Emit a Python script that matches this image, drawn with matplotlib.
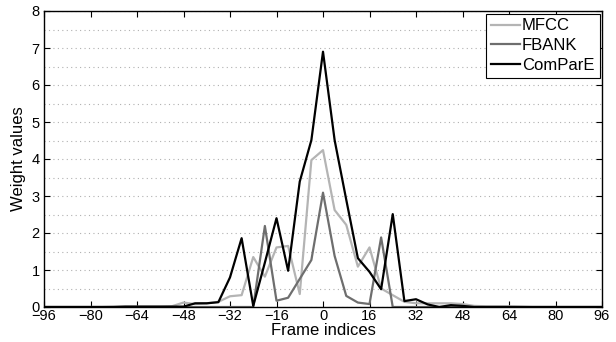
import matplotlib
matplotlib.use("Agg")
import matplotlib.pyplot as plt
from matplotlib.ticker import MultipleLocator

plt.rcParams["font.family"] = ["Liberation Sans", "DejaVu Sans"]

# frame indices (step of 4)
FRAMES = [-96, -92, -88, -84, -80, -76, -72, -68, -64, -60, -56, -52,
          -48, -44, -40, -36, -32, -28, -24, -20, -16, -12, -8, -4,
          0, 4, 8, 12, 16, 20, 24, 28, 32, 36, 40, 44, 48,
          52, 56, 60, 64, 68, 72, 76, 80, 84, 88, 92, 96]

MFCC = [0, 0, 0, 0, 0, 0, 0.01, 0.01, 0.01, 0.01, 0.01, 0.02,
        0.12, 0.08, 0.10, 0.14, 0.29, 0.32, 1.35, 0.82, 1.61, 1.65, 0.35, 3.97,
        4.24, 2.62, 2.22, 1.09, 1.61, 0.50, 0.32, 0.14, 0.10, 0.10, 0.10, 0.10, 0.08,
        0.03, 0.02, 0.02, 0.02, 0.01, 0, 0, 0, 0, 0, 0, 0]

FBANK = [0, 0, 0, 0, 0, 0, 0, 0, 0, 0, 0, 0,
         0, 0, 0, 0, 0, 0, 0, 2.19, 0.17, 0.25, 0.76, 1.27,
         3.09, 1.38, 0.30, 0.12, 0.08, 1.88, 0, 0, 0, 0, 0, 0, 0,
         0, 0, 0, 0, 0, 0, 0, 0, 0, 0, 0, 0]

COMPARE = [0, 0, 0, 0, 0, 0, 0, 0.01, 0.01, 0.01, 0.01, 0.01,
           0.01, 0.10, 0.10, 0.13, 0.80, 1.86, 0.03, 1.20, 2.40, 0.98, 3.39, 4.51,
           6.90, 4.51, 2.90, 1.32, 0.95, 0.48, 2.51, 0.16, 0.21, 0.07, 0, 0.05, 0.03,
           0, 0, 0, 0, 0, 0, 0, 0, 0, 0, 0, 0]

XTICKS = [-96, -80, -64, -48, -32, -16, 0, 16, 32, 48, 64, 80, 96]

fig = plt.figure(figsize=(6.16, 3.42), dpi=100)
ax = fig.add_axes([44 / 616, 1 - 307 / 342, (602 - 44) / 616, (307 - 11) / 342])

ax.plot(FRAMES, MFCC, color="#b4b4b4", lw=1.6, label="MFCC")
ax.plot(FRAMES, FBANK, color="#6e6e6e", lw=1.6, label="FBANK")
ax.plot(FRAMES, COMPARE, color="black", lw=1.6, label="ComParE")

ax.set_xlim(-96, 96)
ax.set_ylim(0, 8)
ax.set_xticks(XTICKS)
ax.set_xticklabels([str(t).replace("-", "\u2212") for t in XTICKS])
ax.yaxis.set_major_locator(MultipleLocator(1))
ax.yaxis.set_minor_locator(MultipleLocator(0.5))
ax.tick_params(which="major", direction="in", length=4, width=0.8,
               top=True, right=True, labelsize=10.5, pad=1.5)
ax.tick_params(axis="y", pad=3)
ax.tick_params(which="minor", length=0)
ax.grid(axis="y", which="both", linestyle=(0, (1, 3)), color="#b0b0b0", lw=0.8)
for s in ax.spines.values():
    s.set_linewidth(1.0)

ax.set_xlabel("Frame indices", fontsize=12, labelpad=0)
ax.set_ylabel("Weight values", fontsize=12, labelpad=4)

leg = ax.legend(loc="upper right", fontsize=12, frameon=True, fancybox=False,
                edgecolor="black", framealpha=1, borderaxespad=0.15,
                handlelength=1.7, handletextpad=0.15, borderpad=0.3,
                labelspacing=0.28)
leg.get_frame().set_linewidth(0.8)

fig.savefig("out.png", dpi=100)
